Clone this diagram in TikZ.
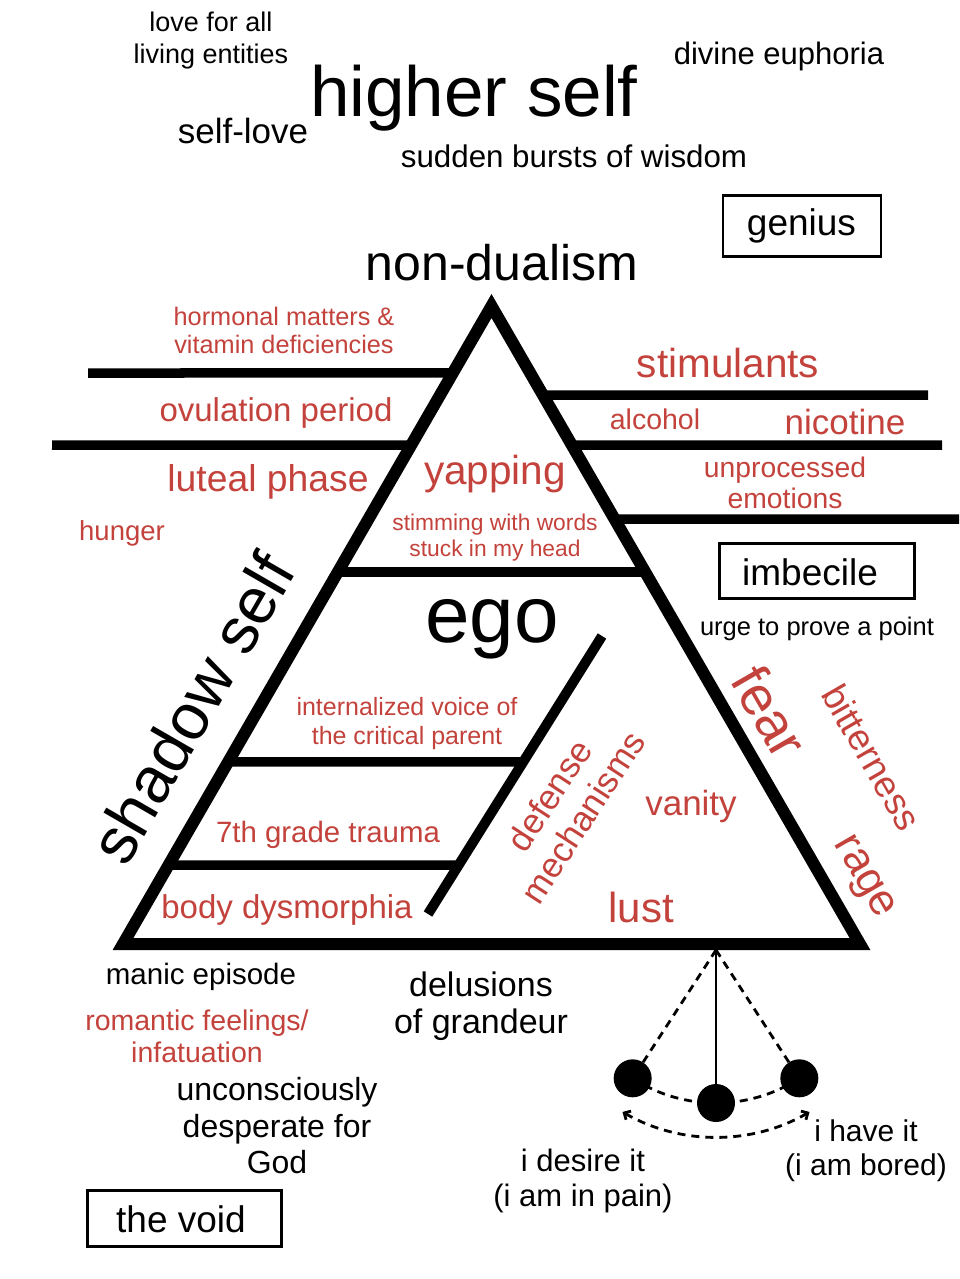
\documentclass[tikz,border=0pt]{standalone}
\usepackage{fontspec}
\setmainfont{Liberation Sans}
\usetikzlibrary{arrows.meta,calc}
\definecolor{redtxt}{RGB}{196,66,60}
\newcommand\fs[2]{\fontsize{#1}{#2}\selectfont}
\begin{document}
\begin{tikzpicture}[x=1pt,y=-1pt,
  lbl/.style={inner sep=0pt, align=center},
  rt/.style={lbl, text=redtxt},
  bk/.style={lbl, text=black},
  boxed/.style={draw, line width=2.8pt, inner sep=0pt},
  boxtxt/.style={bk, font=\fs{37}{41}},
  bar/.style={line width=9.5pt},
  tri/.style={line width=12pt, line join=miter},
  dsh/.style={line width=2.8pt, dash pattern=on 8pt off 6pt},
  ball/.style={circle, fill=black, inner sep=0pt, minimum size=38pt},
]
\useasboundingbox[fill=white] (0,0) rectangle (959,1279);

% triangle
\coordinate (A) at (491.5,306);
\coordinate (L) at (123,944);
\coordinate (R) at (860,944);
\draw[tri] (A) -- (L) -- (R) -- cycle;

% outer bars
\coordinate (o1) at (88,373);
\coordinate (o2) at (52,445);
\coordinate (o3) at (928,395);
\coordinate (o4) at (942,445);
\coordinate (o5) at (959,519);
\draw[bar] (o1) -- ($(L)!0.895!(A)$);
\draw[bar] (o2) -- ($(L)!0.782!(A)$);
\draw[bar] (o3) -- ($(R)!0.8605!(A)$);
\draw[bar] (o4) -- ($(R)!0.782!(A)$);
\draw[bar] (o5) -- ($(R)!0.666!(A)$);

% inner bars
\coordinate (D1) at (602,636);
\coordinate (D2) at (428,914);
\draw[bar] ($(L)!0.583!(A)$) -- ($(R)!0.583!(A)$);
\draw[line width=10pt] (D1) -- (D2);
\draw[bar] ($(L)!0.2853!(A)$) -- ($(D2)!0.547!(D1)$);
\draw[bar] ($(L)!0.1238!(A)$) -- ($(D2)!0.176!(D1)$);

% top texts
\node[bk, font=\fs{27}{32}] (love) at (211,41) {love for all\\living entities};
\node[bk, font=\fs{71}{80}] (higher) at (474,98) {higher self};
\node[bk, font=\fs{31}{35}] (divine) at (779,56) {divine euphoria};
\node[bk, font=\fs{35}{39}] (selflove) at (243,131) {self-love};
\node[bk, font=\fs{31.3}{35}] (sudden) at (574,156) {sudden bursts of wisdom};
\node[boxed, minimum width=158, minimum height=61] (genius) at (802,226) {};
\node[boxtxt] (geniust) at (801.5,226) {genius};
\node[bk, font=\fs{50}{55}] (nondual) at (502,263) {non-dualism};

% left side
\node[rt, font=\fs{25.3}{28}] (hormonal) at (284,330) {hormonal matters \&\\vitamin deficiencies};
\node[rt, font=\fs{33}{37}] (ovul) at (276,413) {ovulation period};
\node[rt, font=\fs{37.3}{42}] (luteal) at (268,482) {luteal phase};
\node[rt, font=\fs{27.5}{30}] (hunger) at (122,533) {hunger};
\node[bk, font=\fs{65}{70}, rotate=60] (shadow) at (192,708) {shadow self};

% right side
\node[rt, font=\fs{40.5}{45}] (stim) at (728,363) {stimulants};
\node[rt, font=\fs{28.5}{32}] (alcohol) at (655,419) {alcohol};
\node[rt, font=\fs{35}{38}] (nicotine) at (845,422) {nicotine};
\node[rt, font=\fs{28.3}{31}] (unproc) at (785,483) {unprocessed\\emotions};
\node[boxed, minimum width=195, minimum height=55] (imbecile) at (817,571) {};
\node[boxtxt] (imbecilet) at (810,572) {imbecile};
\node[bk, font=\fs{25.5}{29}] (urge) at (817,629) {urge to prove a point};
\node[rt, font=\fs{55}{60}, rotate=-60] (fear) at (770,712) {fear};
\node[rt, font=\fs{37}{42}, rotate=-60] (bitter) at (872,757) {bitterness};
\node[rt, font=\fs{44}{50}, rotate=-60] (rage) at (862,878) {rage};

% inside triangle
\node[rt, font=\fs{40.5}{45}] (yapping) at (495,474) {yapping};
\node[rt, font=\fs{22.8}{26}] (stimming) at (495,538) {stimming with words\\stuck in my head};
\node[bk, font=\fs{80}{90}] (ego) at (492,629) {ego};
\node[rt, font=\fs{25}{29}] (internal) at (407,724) {internalized voice of\\the critical parent};
\node[rt, font=\fs{29.4}{33}] (seventh) at (328,835) {7th grade trauma};
\node[rt, font=\fs{33}{37}] (body) at (287,910) {body dysmorphia};
\node[rt, font=\fs{35}{40}, rotate=57] (defense) at (566,806) {defense\\mechanisms};
\node[rt, font=\fs{35}{40}] (vanity) at (691,806) {vanity};
\node[rt, font=\fs{42}{47}] (lust) at (641,907) {lust};

% bottom
\node[bk, font=\fs{29.5}{33}] (manic) at (201,977) {manic episode};
\node[rt, font=\fs{28.5}{32}] (romantic) at (197,1036) {romantic feelings/\\infatuation};
\node[bk, font=\fs{32}{36.5}] (unconsc) at (277,1126) {unconsciously\\desperate for\\God};
\node[boxed, minimum width=194, minimum height=56] (void) at (184.5,1218.5) {};
\node[boxtxt] (voidt) at (181,1219) {the void};
\node[bk, font=\fs{34}{37}] (delusions) at (481,1006) {delusions\\of grandeur};
\node[bk, font=\fs{31}{35}] (desire) at (583,1181) {i desire it\\(i am in pain)};
\node[bk, font=\fs{30}{34}] (have) at (866,1151) {i have it\\(i am bored)};

% pendulum
\coordinate (pv) at (716,950);
\coordinate (top) at (716,944);
\draw[dsh] ($(pv)+(123:153)$) arc[start angle=123, end angle=57, radius=153];
\draw[dsh, {Straight Barb[length=5pt,width=10pt]}-{Straight Barb[length=5pt,width=10pt]}]
  ($(pv)+(120:187)$) arc[start angle=120, end angle=60, radius=187];
\node[ball] (bl) at ($(pv)+(123:153)$) {};
\node[ball] (bc) at ($(pv)+(90:153)$) {};
\node[ball] (br) at ($(pv)+(57:153)$) {};
\draw[line width=1.8pt] (top) -- (bc);
\draw[dsh] (pv) -- (bl);
\draw[dsh] (pv) -- (br);
\end{tikzpicture}
\end{document}
